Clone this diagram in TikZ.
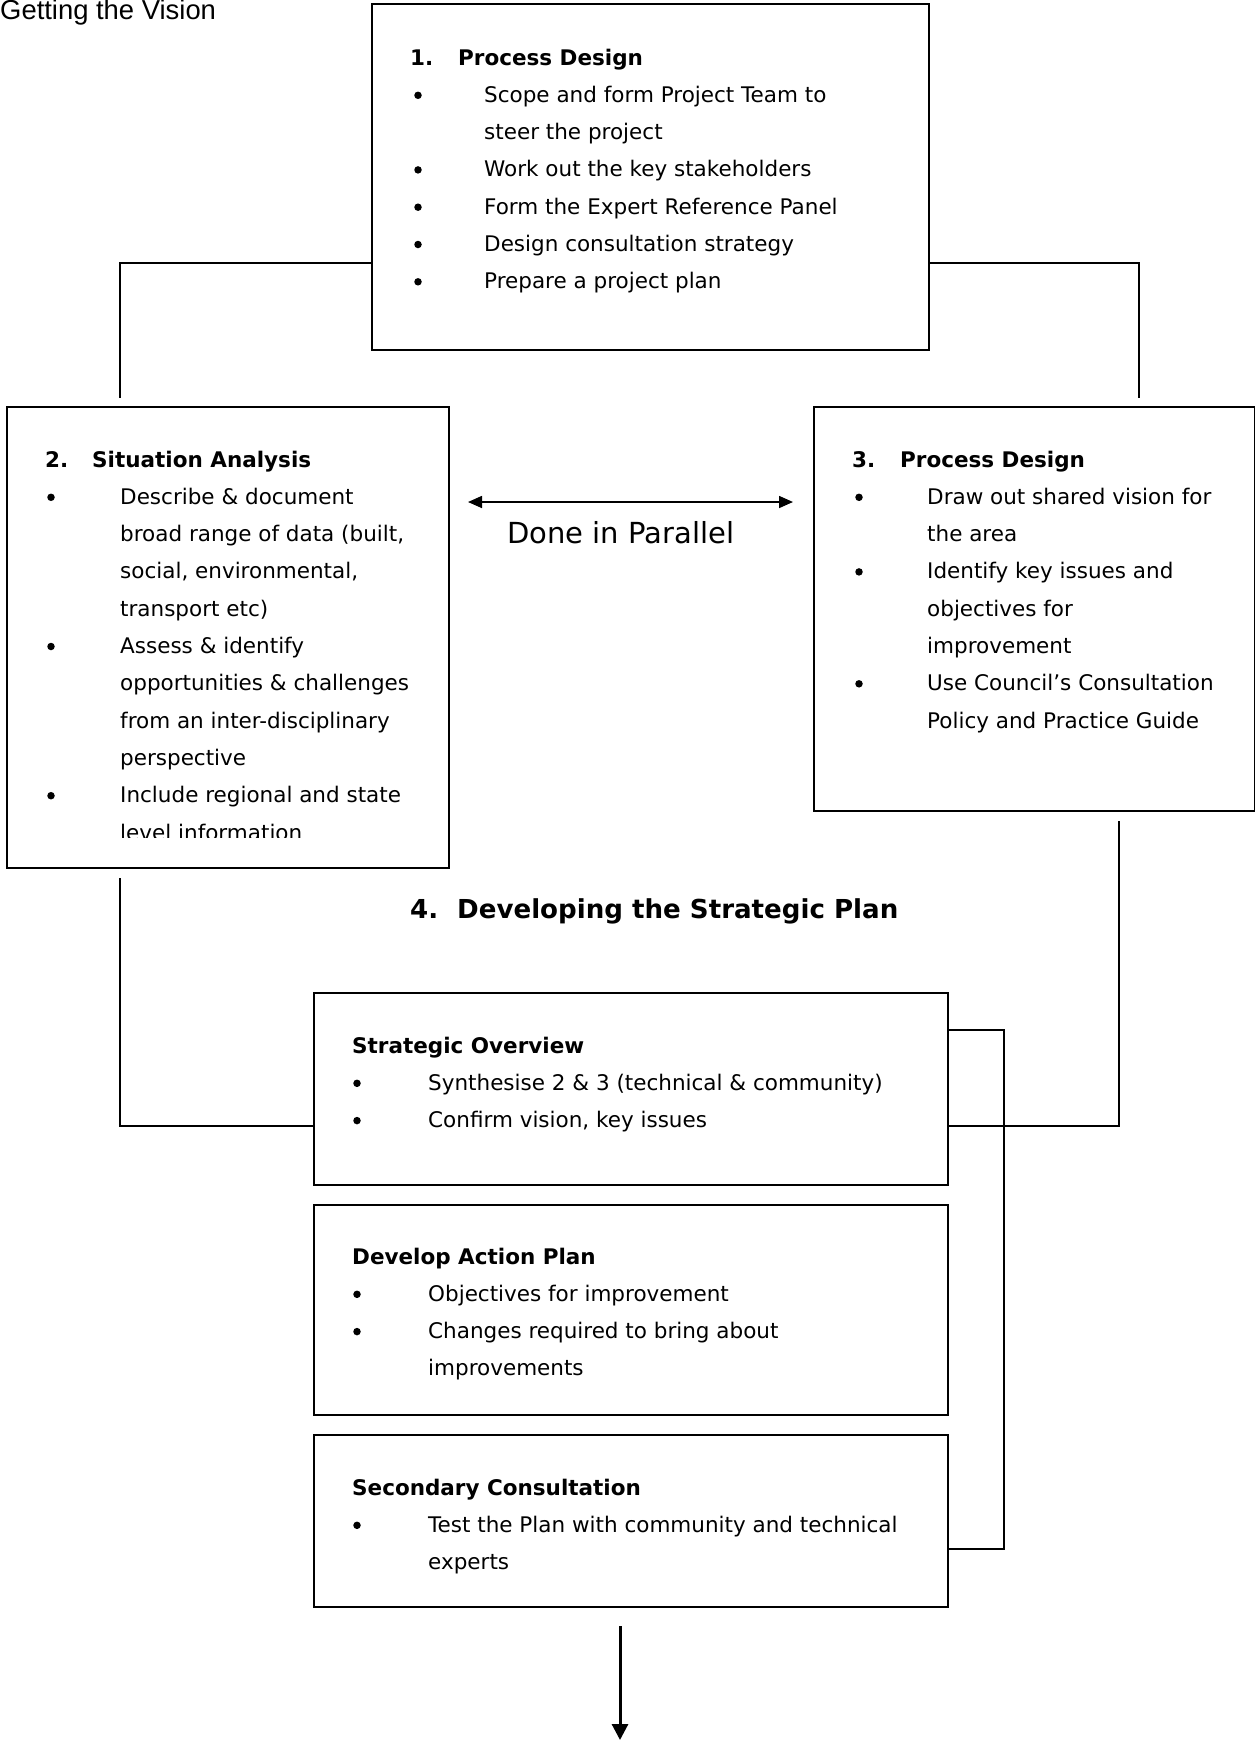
\documentclass[tikz,border=0pt]{standalone}
\usepackage{fontspec}
\setmainfont{DejaVu Sans}
\newfontfamily\arialfont{Liberation Sans}
\usetikzlibrary{arrows.meta}
\newcommand\bodyfnt{\fontsize{21.5}{26}\selectfont}
\begin{document}
\begin{tikzpicture}[x=1pt,y=-1pt,
  box/.style={draw, line width=2pt, inner sep=0pt, anchor=north west},
  conn/.style={line width=1.6pt},
  txt/.style={anchor=base west, inner sep=0pt, font=\bodyfnt},
  hd/.style={anchor=base west, inner sep=0pt, font=\bodyfnt\bfseries},
  bul/.style={circle, fill=black, inner sep=0pt, minimum size=7.5pt, yshift=7pt}]
\useasboundingbox (0,0) rectangle (1255,1746);

% title
\node[anchor=base west, inner sep=0pt, font=\arialfont\fontsize{27.4}{32}\selectfont] (title) at (0,19.5) {Getting the Vision};

% boxes
\node[box, minimum width=557pt, minimum height=346pt] (b1) at (371,3) {};
\node[box, minimum width=442pt, minimum height=461pt] (b2) at (6,406) {};
\node[box, minimum width=441pt, minimum height=404pt] (b3) at (813,406) {};
\node[box, minimum width=634pt, minimum height=192pt] (so) at (313,992) {};
\node[box, minimum width=634pt, minimum height=210pt] (dap) at (313,1204) {};
\node[box, minimum width=634pt, minimum height=172pt] (sc) at (313,1434) {};

% connectors
\coordinate (lt) at (120,398);
\coordinate (rt) at (1139,398);
\coordinate (lb) at (120,878);
\coordinate (rb) at (1119,821);
\draw[conn] (b1.west |- 0,263) -| (lt);
\draw[conn] (b1.east |- 0,263) -| (rt);
\draw[conn] (lb) |- (so.west |- 0,1126);
\draw[conn] (rb) |- (so.east |- 0,1126);
\draw[conn] (so.east |- 0,1030) -- (1004,1030) |- (sc.east |- 0,1549);

\coordinate (pl) at (468,502);
\coordinate (pr) at (793,502);
\draw[conn, {Triangle[length=14pt,width=12pt]}-{Triangle[length=14pt,width=12pt]}] (pl) -- (pr);
\node[anchor=base west, inner sep=0pt, font=\fontsize{29}{34}\selectfont] (par) at (507,543) {Done in Parallel};

\coordinate (da) at (620,1626);
\coordinate (db) at (620,1740);
\draw[line width=3pt, -{Triangle[length=16pt,width=16pt]}] (da) -- (db);

% heading 4
\node[anchor=base west, inner sep=0pt, font=\fontsize{26.1}{31}\selectfont\bfseries] (h4n) at (410,918) {4.};
\node[anchor=base west, inner sep=0pt, font=\fontsize{26.1}{31}\selectfont\bfseries] (h4) at (457,918) {Developing the Strategic Plan};

% box 1
\node[hd] (n1) at (410,65) {1.};
\node[hd] (h1) at (458,65) {Process Design};
\node[bul] (p1a) at (418,102.3) {};
\node[txt] (t1a) at (484,102.3) {Scope and form Project Team to};
\node[txt] (t1b) at (484,139.6) {steer the project};
\node[bul] (p1c) at (418,176.9) {};
\node[txt] (t1c) at (484,176.9) {Work out the key stakeholders};
\node[bul] (p1d) at (418,214.2) {};
\node[txt] (t1d) at (484,214.2) {Form the Expert Reference Panel};
\node[bul] (p1e) at (418,251.5) {};
\node[txt] (t1e) at (484,251.5) {Design consultation strategy};
\node[bul] (p1f) at (418,288.8) {};
\node[txt] (t1f) at (484,288.8) {Prepare a project plan};

% box 2
\node[hd] (n2) at (45,467) {2.};
\node[hd] (h2) at (92,467) {Situation Analysis};
\node[bul] (p2a) at (51,504.3) {};
\node[txt] (t2a) at (120,504.3) {Describe \& document};
\node[txt] (t2b) at (120,541.6) {broad range of data (built,};
\node[txt] (t2c) at (120,578.9) {social, environmental,};
\node[txt] (t2d) at (120,616.2) {transport etc)};
\node[bul] (p2e) at (51,653.5) {};
\node[txt] (t2e) at (120,653.5) {Assess \& identify};
\node[txt] (t2f) at (120,690.8) {opportunities \& challenges};
\node[txt] (t2g) at (120,728.1) {from an inter-disciplinary};
\node[txt] (t2h) at (120,765.4) {perspective};
\node[bul] (p2i) at (51,802.7) {};
\node[txt] (t2i) at (120,802.7) {Include regional and state};
\begin{scope}
\clip (0,820) rectangle (1255,837);
\node[txt] (t2j) at (120,840) {level information};
\end{scope}

% box 3
\node[hd] (n3) at (852,467) {3.};
\node[hd] (h3) at (900,467) {Process Design};
\node[bul] (p3a) at (859,504.3) {};
\node[txt] (t3a) at (927,504.3) {Draw out shared vision for};
\node[txt] (t3b) at (927,541.6) {the area};
\node[bul] (p3c) at (859,578.9) {};
\node[txt] (t3c) at (927,578.9) {Identify key issues and};
\node[txt] (t3d) at (927,616.2) {objectives for};
\node[txt] (t3e) at (927,653.5) {improvement};
\node[bul] (p3f) at (859,690.8) {};
\node[txt] (t3f) at (927,690.8) {Use Council’s Consultation};
\node[txt] (t3g) at (927,728.1) {Policy and Practice Guide};

% strategic overview
\node[hd] (hso) at (352,1053) {Strategic Overview};
\node[bul] (pso1) at (357,1090.3) {};
\node[txt] (tso1) at (428,1090.3) {Synthesise 2 \& 3 (technical \& community)};
\node[bul] (pso2) at (357,1127.6) {};
\node[txt] (tso2) at (428,1127.6) {Confirm vision, key issues};

% develop action plan
\node[hd] (hdap) at (352,1264) {Develop Action Plan};
\node[bul] (pdap1) at (357,1301.3) {};
\node[txt] (tdap1) at (428,1301.3) {Objectives for improvement};
\node[bul] (pdap2) at (357,1338.6) {};
\node[txt] (tdap2) at (428,1338.6) {Changes required to bring about};
\node[txt] (tdap3) at (428,1375.9) {improvements};

% secondary consultation
\node[hd] (hsc) at (352,1495) {Secondary Consultation};
\node[bul] (psc1) at (357,1532.3) {};
\node[txt] (tsc1) at (428,1532.3) {Test the Plan with community and technical};
\node[txt] (tsc2) at (428,1569.6) {experts};
\end{tikzpicture}
\end{document}
